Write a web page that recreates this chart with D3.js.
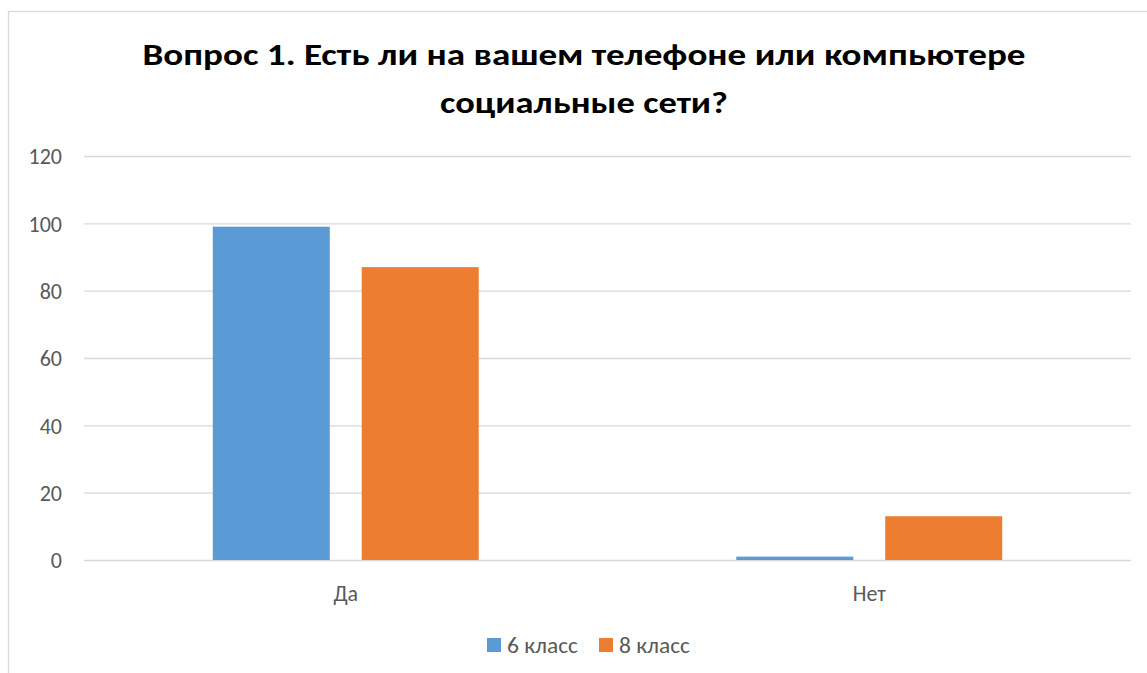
<!DOCTYPE html>
<html><head><meta charset="utf-8">
<script src="https://cdn.jsdelivr.net/npm/d3@7"></script>
<style>
html,body{margin:0;padding:0;background:#fff;}
svg{display:block;font-family:Carlito,Calibri,Lato,"Noto Sans",sans-serif;}
</style></head>
<body>
<svg id="chart" width="1147" height="673"></svg>
<script>
const titleLines = ["Вопрос 1. Есть ли на вашем телефоне или компьютере", "социальные сети?"];
const categories = ["Да", "Нет"];
const seriesNames = ["6 класс", "8 класс"];
const series6 = [99, 1];
const series8 = [87, 13];
const yTicks = [0, 20, 40, 60, 80, 100, 120];
const colors = ["#5B9BD5", "#ED7D31"];

const svg = d3.select("#chart");
const margin = {left: 84, right: 1131, top: 156, bottom: 560};
const FONT = "Carlito,Calibri,Lato,'Noto Sans',sans-serif";

svg.append("rect").attr("x", 8.5).attr("y", 11.5).attr("width", 1200).attr("height", 700)
  .attr("fill", "#fff").attr("stroke", "#D9D9D9").attr("stroke-width", 1.3);

// title
const titleW = [883, 288];
svg.append("g").selectAll("text").data(titleLines).join("text")
  .attr("x", 584).attr("y", (d, i) => 65 + i * 48)
  .attr("text-anchor", "middle").attr("font-weight", 900).attr("font-size", 30.5)
  .attr("fill", "#000")
  .attr("textLength", (d, i) => titleW[i]).attr("lengthAdjust", "spacingAndGlyphs")
  .text(d => d);

const x0 = d3.scaleBand().domain(categories).range([margin.left, margin.right]);
const y = d3.scaleLinear().domain([0, 120]).range([margin.bottom, margin.top]);

// gridlines + y labels
const yAxis = d3.axisLeft(y).tickValues(yTicks).tickSize(-(margin.right - margin.left)).tickPadding(22);
const gy = svg.append("g").attr("transform", `translate(${margin.left},0)`).call(yAxis);
gy.select(".domain").remove();
gy.selectAll(".tick line").attr("stroke", "#D9D9D9").attr("stroke-width", 1.3);
gy.selectAll(".tick text").attr("fill", "#595959").attr("font-size", 22).attr("dy", "0.35em")
  .attr("font-family", FONT);

// bars
const data = categories.map((c, i) => ({cat: c, vals: [series6[i], series8[i]]}));
const band = x0.bandwidth();
const barW = band * 0.2235;
const gap = band * 0.061;
const groups = svg.append("g").selectAll("g").data(data).join("g")
  .attr("transform", d => `translate(${x0(d.cat)},0)`);
groups.selectAll("rect").data(d => d.vals.map((v, j) => ({v, j}))).join("rect")
  .attr("x", d => band / 2 + (d.j === 0 ? -gap / 2 - barW : gap / 2))
  .attr("width", barW)
  .attr("y", d => y(d.v))
  .attr("height", d => y(0) - y(d.v))
  .attr("fill", d => colors[d.j]);

// x axis labels
const xAxis = d3.axisBottom(x0).tickSize(0).tickPadding(25);
const gx = svg.append("g").attr("transform", `translate(0,${margin.bottom})`).call(xAxis);
gx.select(".domain").remove();
gx.selectAll(".tick text").attr("fill", "#595959").attr("font-size", 22)
  .attr("font-family", FONT);

// legend
const legendX = [487, 599];
const lg = svg.append("g").selectAll("g").data(seriesNames).join("g")
  .attr("transform", (d, i) => `translate(${legendX[i]},638)`);
lg.append("rect").attr("width", 14).attr("height", 14).attr("fill", (d, i) => colors[i]);
lg.append("text").attr("x", 20).attr("y", 15).attr("fill", "#595959").attr("font-size", 22)
  .attr("textLength", 71).attr("lengthAdjust", "spacingAndGlyphs").text(d => d);
</script>
</body></html>
